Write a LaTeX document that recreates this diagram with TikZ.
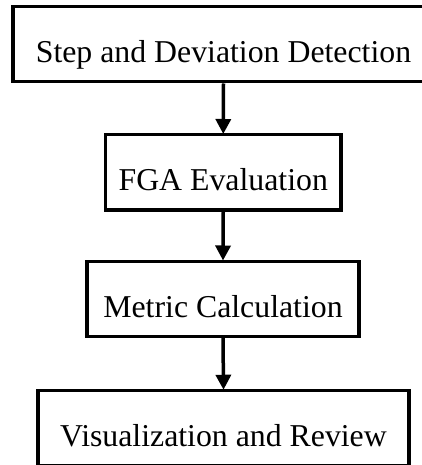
\documentclass[tikz,border=0pt]{standalone}
\usepackage{fontspec}
\setmainfont{Liberation Serif}
\usetikzlibrary{arrows.meta}
\tikzset{
  stagebox/.style={draw=black, line width=3.5pt, inner sep=0pt, text height=37pt, text depth=0pt,
    minimum height=75pt, font=\fontsize{31.8}{33}\selectfont, anchor=center},
  flowarrow/.style={line width=3.5pt, -{Triangle[width=15pt,length=15pt]}, shorten >=-1pt}
}
\begin{document}
\begin{tikzpicture}[x=1pt,y=-1pt]
\useasboundingbox (0,0) rectangle (422,465);
\clip (0,0) rectangle (422,465);
\node[stagebox, minimum width=421pt] (s1) at (223.5,44.25) {Step and Deviation Detection};
\node[stagebox, minimum width=235.5pt] (s2) at (223.25,172.25) {FGA Evaluation};
\node[stagebox, minimum width=272pt] (s3) at (223,298.75) {Metric Calculation};
\node[stagebox, minimum width=371pt] (s4) at (223.5,428) {Visualization and Review};
\draw[flowarrow] (s1.south) -- (s2.north);
\draw[flowarrow] (s2.south) -- (s3.north);
\draw[flowarrow] (s3.south) -- (s4.north);
\end{tikzpicture}
\end{document}
